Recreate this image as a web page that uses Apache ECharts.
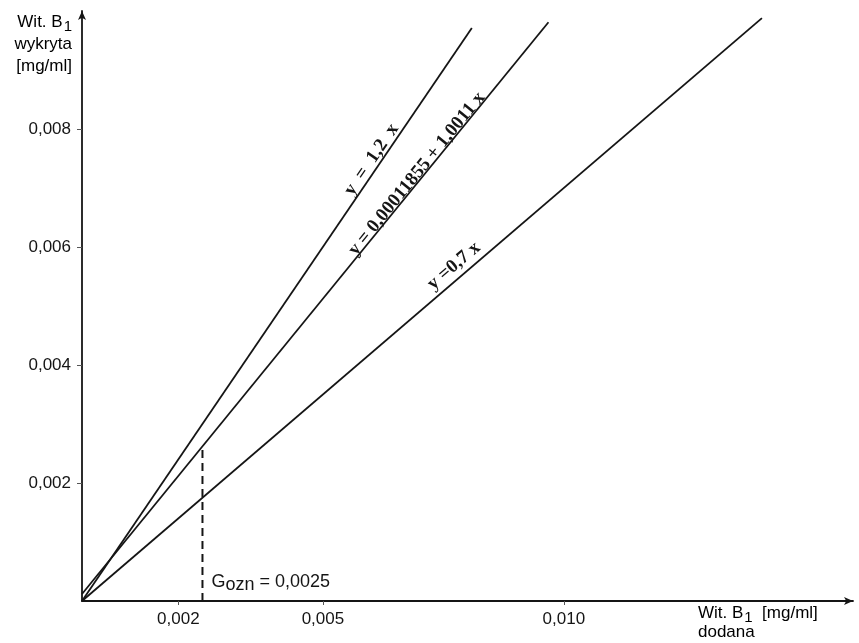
<!DOCTYPE html>
<html>
<head>
<meta charset="utf-8">
<script src="https://cdn.jsdelivr.net/npm/echarts@6/dist/echarts.min.js"></script>
<style>
html, body { margin: 0; padding: 0; background: #ffffff; }
#chart { width: 859px; height: 643px; }
</style>
</head>
<body>
<div id="chart"></div>
<script>
// Axis ticks (mg/ml)
const xTicks = [0.002, 0.005, 0.010];
const yTicks = [0.002, 0.004, 0.006, 0.008];

// Regression / reference lines, given by their end points [x, y]
const line12 = [[0, 0], [0.00809, 0.00971]];            // y = 1,2 x
const lineFit = [[0, 0.000119], [0.00968, 0.00981]];    // y = 0,00011855 + 1,0011 x
const line07 = [[0, 0], [0.01411, 0.00988]];            // y = 0,7 x

// Determination limit G_ozn
const gOzn = 0.0025;
const gOznTop = 0.00262;

// Equation labels: text, anchor point and angle along each line
const eqTexts = ['y  =  1,2  x', 'y = 0,00011855 + 1,0011 x', 'y =0,7 x'];
const eqPoints = [[0.00601, 0.00748], [0.00695, 0.00724], [0.00772, 0.00568]];
const eqAngles = [55.8, 50.8, 40.7];

const fmt = v => v.toFixed(3).replace('.', ',');
const sans = 'Liberation Sans, Arial, sans-serif';
const serif = 'Liberation Serif, Times New Roman, serif';
const ink = '#151515';

const chart = echarts.init(document.getElementById('chart'));

const lineStyle = { color: ink, width: 1.8 };

const option = {
  backgroundColor: '#ffffff',
  animation: false,
  grid: { left: 82, right: 6, top: 11, bottom: 42 },
  xAxis: {
    type: 'value',
    min: 0,
    max: 0.016,
    splitLine: { show: false },
    axisLine: {
      onZero: false,
      lineStyle: { color: ink, width: 1.8 },
      symbol: ['none', 'arrow'],
      symbolSize: [6, 9]
    },
    axisTick: { customValues: xTicks, length: 4, lineStyle: { color: '#555' } },
    axisLabel: {
      customValues: xTicks,
      formatter: fmt,
      color: ink,
      fontSize: 17,
      fontFamily: sans,
      margin: 10
    }
  },
  yAxis: {
    type: 'value',
    min: 0,
    max: 0.010,
    splitLine: { show: false },
    axisLine: {
      onZero: false,
      lineStyle: { color: ink, width: 1.8 },
      symbol: ['none', 'arrow'],
      symbolSize: [6, 9]
    },
    axisTick: { customValues: yTicks, length: 5, lineStyle: { color: '#555' } },
    axisLabel: {
      customValues: yTicks,
      formatter: fmt,
      color: ink,
      fontSize: 17,
      fontFamily: sans,
      margin: 11
    }
  },
  series: [
    { type: 'line', data: line12, symbol: 'none', lineStyle: lineStyle },
    { type: 'line', data: lineFit, symbol: 'none', lineStyle: lineStyle },
    { type: 'line', data: line07, symbol: 'none', lineStyle: lineStyle },
    {
      type: 'line',
      data: [[gOzn, 0], [gOzn, gOznTop]],
      symbol: 'none',
      lineStyle: { color: ink, width: 2, type: [8, 5] }
    },
    {
      // equation labels along the lines
      type: 'scatter',
      symbolSize: 0,
      silent: true,
      itemStyle: { opacity: 1 },
      data: eqPoints.map((p, i) => ({
        value: p,
        label: {
          show: true,
          position: 'inside',
          rotate: eqAngles[i],
          formatter: eqTexts[i],
          fontFamily: serif,
          fontWeight: 'bold',
          fontSize: 19,
          color: ink
        }
      }))
    },
    {
      // G_ozn annotation next to the dashed line
      type: 'scatter',
      symbolSize: 0,
      silent: true,
      itemStyle: { opacity: 1 },
      data: [{
        value: [gOzn, 0.00032],
        label: {
          show: true,
          position: 'right',
          distance: 9,
          color: ink,
          formatter: '{a|G}{b|ozn}{a| = 0,0025}',
          rich: {
            a: { fontFamily: sans, fontSize: 18, color: ink },
            b: { fontFamily: sans, fontSize: 18, color: ink, padding: [5, 0, 0, 0] }
          }
        }
      }]
    }
  ],
  graphic: [
    {
      type: 'text',
      x: 72,
      y: 11,
      style: {
        text: '{t|Wit. B}{s|1}\n{t|wykryta}\n{t|[mg/ml]}',
        align: 'right',
        verticalAlign: 'top',
        rich: {
          t: { fontFamily: sans, fontSize: 17, color: ink, lineHeight: 22 },
          s: { fontFamily: sans, fontSize: 15, color: ink, lineHeight: 22, padding: [9, 0, 0, 1] }
        }
      }
    },
    {
      type: 'text',
      x: 698,
      y: 604,
      style: {
        text: '{t|Wit. B}{s|1}{t|  [mg/ml]}\n{t|dodana}',
        align: 'left',
        verticalAlign: 'top',
        rich: {
          t: { fontFamily: sans, fontSize: 17, color: ink, lineHeight: 19 },
          s: { fontFamily: sans, fontSize: 15, color: ink, lineHeight: 19, padding: [9, 0, 0, 1] }
        }
      }
    }
  ]
};

chart.setOption(option);
</script>
</body>
</html>
